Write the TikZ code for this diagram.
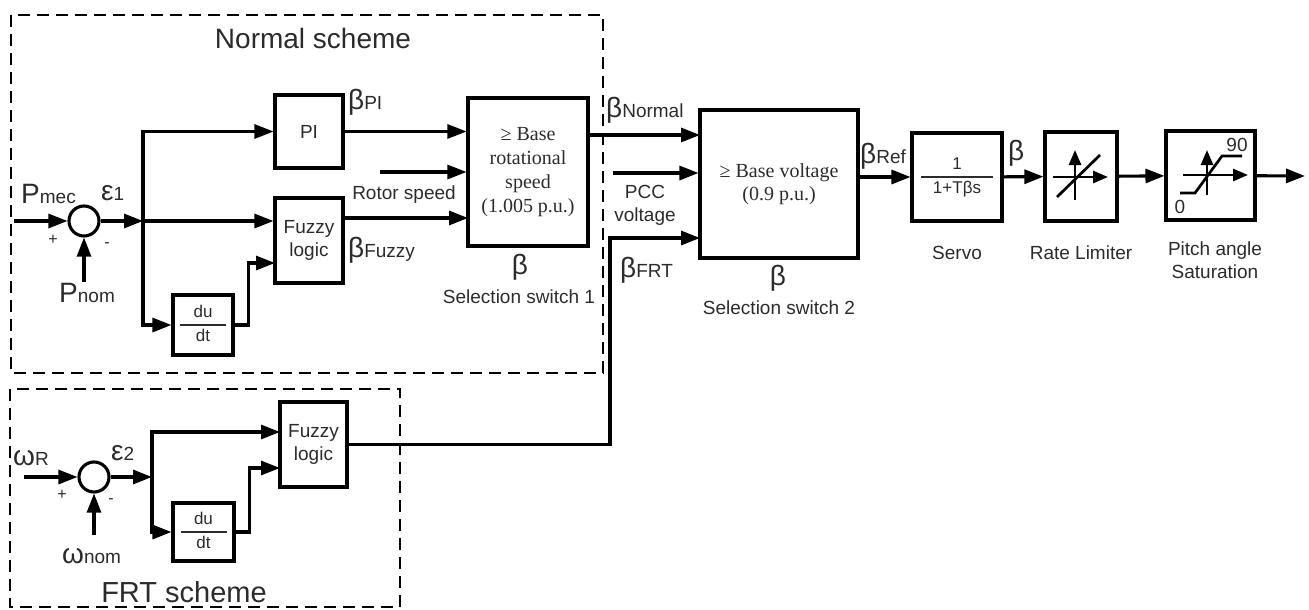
\documentclass[tikz,border=0pt]{standalone}
\usepackage{fontspec}
\setmainfont{Liberation Sans}
\newfontfamily\boxserif{Liberation Serif}
\usepackage{xcolor}
\usetikzlibrary{arrows.meta,calc}
\definecolor{txtgray}{HTML}{2B2B2B}
\newcommand{\fs}[2]{\fontsize{#1}{#2}\selectfont}
\newcommand{\sig}[2]{{\fs{28}{28}#1}{\fs{19}{19}#2}}
\newcommand{\fracbox}[3]{\begin{tabular}{@{}c@{}}\makebox[#3]{#1}\\\hline\makebox[#3]{#2}\end{tabular}}
\setlength{\arrayrulewidth}{1.8pt}
\renewcommand{\arraystretch}{1.3}

\begin{document}
\begin{tikzpicture}[x=1pt,y=-1pt,
    blk/.style={draw,line width=3.1pt,inner sep=0pt,font=\fs{19}{23},text=txtgray,align=center},
    sumc/.style={circle,draw,line width=3.1pt,minimum size=30pt,inner sep=0pt},
    arr/.style={line width=3.1pt,-{Triangle[length=19pt,width=14pt]}},
    iconarr/.style={-{Triangle[length=15pt,width=12pt]}},
    lbl/.style={font=\fs{19}{23},text=txtgray,inner sep=0pt},
    pm/.style={font=\fs{16}{16},text=txtgray,inner sep=0pt},
    scheme/.style={draw,dash pattern=on 12pt off 7pt,line width=1.7pt}]

\useasboundingbox (0,0) rectangle (1309,610);

% scheme frames
\draw[scheme] (11,15) rectangle (603,373);
\draw[scheme] (10,389) rectangle (400,607);
\node[lbl,font=\fs{28}{28}] (tnorm) at (313,38) {Normal scheme};
\node[lbl,font=\fs{29}{29}] (tfrt) at (184,592) {FRT scheme};

% normal scheme blocks
\node[sumc] (sum1) at (84,221) {};
\node[blk,minimum width=68pt,minimum height=73pt] (pi) at (309,131.5) {PI};
\node[blk,minimum width=68pt,minimum height=85pt] (fuz1) at (309,240.5) {Fuzzy\\logic};
\node[blk,minimum width=60pt,minimum height=60pt,font=\fs{17}{17}] (dudt1) at (203,325) {\fracbox{du}{dt}{46pt}};
\node[blk,minimum width=120pt,minimum height=148pt,font=\boxserif\fs{20}{24}] (sw1) at (528,172) {≥ Base\\rotational\\speed\\(1.005 p.u.)};

% selection and actuator chain
\node[blk,minimum width=158pt,minimum height=148pt,font=\boxserif\fs{20}{23}] (sw2) at (779,184) {≥ Base voltage\\(0.9 p.u.)};
\node[blk,minimum width=90pt,minimum height=88pt,font=\fs{17}{17}] (servo) at (957,177) {\fracbox{1}{1+Tβs}{72pt}};
\node[blk,minimum width=72pt,minimum height=89pt] (rate) at (1081,176.5) {};
\node[blk,minimum width=89pt,minimum height=89pt] (sat) at (1210.5,175.5) {};

% FRT scheme blocks
\node[sumc] (sum2) at (94,477) {};
\node[blk,minimum width=67pt,minimum height=85pt] (fuz2) at (313.5,444.5) {Fuzzy\\logic};
\node[blk,minimum width=61pt,minimum height=58pt,font=\fs{17}{17}] (dudt2) at (203.5,532) {\fracbox{du}{dt}{46pt}};

% free ends and branch points
\coordinate (pmec) at (14,221);
\coordinate (pnom) at (84,282);
\coordinate (b1) at (143,221);
\coordinate (f1in2) at (275,263);
\coordinate (rs) at (380,172);
\coordinate (s1in3) at (468,218);
\coordinate (s2in1) at (700,135);
\coordinate (pcc) at (613,173);
\coordinate (frtup) at (610,238);
\coordinate (s2in3) at (700,238);
\coordinate (out) at (1305,176);
\coordinate (wr) at (24,477);
\coordinate (wnom) at (94,535);
\coordinate (b2) at (152,477);
\coordinate (f2in1) at (280,432);
\coordinate (f2in2) at (280,468);

% connectors
\draw[arr] (pmec) -- (sum1);
\draw[arr] (pnom) -- (sum1);
\draw[arr] (sum1) -- (b1);
\draw[arr] (b1) -- (fuz1.west |- b1);
\draw[arr] (b1) |- (pi);
\draw[arr] (b1) |- (dudt1);
\draw[arr] (dudt1.east) -- ++(14,0) |- (f1in2);
\draw[arr] (pi) -- (sw1.west |- pi);
\draw[arr] (rs) -- (sw1.west |- rs);
\draw[arr] (fuz1.east |- s1in3) -- (s1in3);
\draw[arr] (sw1.east |- s2in1) -- (s2in1);
\draw[arr] (pcc) -- (sw2.west |- pcc);
\draw[arr] (fuz2) -| (frtup) -- (s2in3);
\draw[arr] (sw2.east |- servo) -- (servo);
\draw[arr] (servo) -- (rate);
\draw[arr] (rate) -- (sat);
\draw[arr] (sat) -- (out);
\draw[arr] (wr) -- (sum2);
\draw[arr] (wnom) -- (sum2);
\draw[arr] (sum2) -- (b2);
\draw[arr] (b2) |- (f2in1);
\draw[arr] (b2) |- (dudt2);
\draw[arr] (dudt2.east) -- ++(14,0) |- (f2in2);

% rate limiter icon
\begin{scope}[shift={(rate.center)},line width=2.7pt]
\draw[iconarr] (-28,0.5) -- (27,0.5);
\draw[iconarr] (-6,23.5) -- (-6,-26.5);
\draw (-24,20.5) -- (19,-21.5);
\end{scope}

% saturation icon
\begin{scope}[shift={(sat.center)},line width=2.7pt]
\draw[iconarr] (-27.5,-0.5) -- (37.5,-0.5);
\draw[iconarr] (-3.5,19.5) -- (-3.5,-25.5);
\draw (-30.5,17.5) -- (-15.5,17.5) -- (11.5,-19.5) -- (31.5,-19.5);
\node[lbl,font=\fs{19}{19}] (l90) at (26.5,-30.5) {90};
\node[lbl,font=\fs{19}{19}] (l0) at (-30.5,31.5) {0};
\end{scope}

% signal labels
\node[lbl,anchor=base west] (lpmec) at (21,203) {\sig{P}{mec}};
\node[lbl,anchor=base west] (leps1) at (101,200) {\sig{ε}{1}};
\node[pm] (plus1) at (53,240) {+};
\node[pm] (minus1) at (107,245) {-};
\node[lbl,anchor=base west] (lpnom) at (59,302) {\sig{P}{nom}};
\node[lbl,anchor=base west] (lbpi) at (348,110) {\sig{β}{PI}};
\node[lbl] (lrs) at (404,195) {Rotor speed};
\node[lbl,anchor=base west] (lbfz) at (348,257) {\sig{β}{Fuzzy}};
\node[lbl,font=\fs{28}{28}] (lb1) at (520,267) {β};
\node[lbl] (lsw1) at (519,297) {Selection switch 1};
\node[lbl,anchor=base west] (lbn) at (606,117) {\sig{β}{Normal}};
\node[lbl,align=center] (lpcc) at (645,205) {PCC\\voltage};
\node[lbl,anchor=base west] (lbfrt) at (620,277) {\sig{β}{FRT}};
\node[lbl,font=\fs{28}{28}] (lb2) at (778,278) {β};
\node[lbl] (lsw2) at (779,308) {Selection switch 2};
\node[lbl,anchor=base west] (lbref) at (860,163) {\sig{β}{Ref}};
\node[lbl,anchor=base west,font=\fs{28}{28}] (lbs) at (1008,160) {β};
\node[lbl] (lservo) at (957,253) {Servo};
\node[lbl] (lrate) at (1081,253) {Rate Limiter};
\node[lbl,align=center] (lsat) at (1215,260) {Pitch angle\\Saturation};
\node[lbl,anchor=base west] (lwr) at (13,465) {\sig{ω}{R}};
\node[lbl,anchor=base west] (leps2) at (111,460) {\sig{ε}{2}};
\node[pm] (plus2) at (62,495) {+};
\node[pm] (minus2) at (111,501) {-};
\node[lbl,anchor=base west] (lwnom) at (62,563) {\sig{ω}{nom}};
\end{tikzpicture}
\end{document}
